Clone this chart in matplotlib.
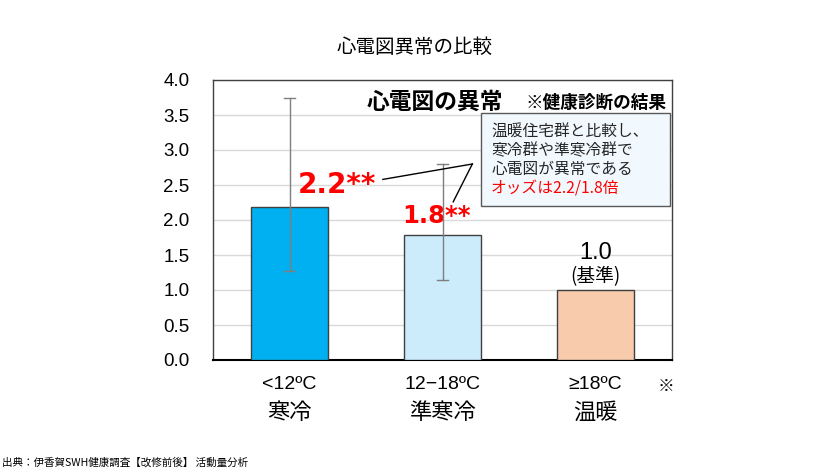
import matplotlib.pyplot as plt
from matplotlib.patches import Rectangle
import numpy as np

plt.rcParams['font.family'] = ['Noto Sans CJK JP', 'DejaVu Sans']

temps = ["<12ºC", "12−18ºC", "≥18ºC"]
groups = ["寒冷", "準寒冷", "温暖"]
odds = [2.18, 1.79, 1.0]
ci_low = [1.27, 1.14, np.nan]
ci_high = [3.75, 2.80, np.nan]
colors = ["#00B0F0", "#CCEBFB", "#F8CBAD"]
box_lines = ["温暖住宅群と比較し、", "寒冷群や準寒冷群で", "心電図が異常である"]
box_red = "オッズは2.2/1.8倍"
source = "出典：伊香賀SWH健康調査【改修前後】 活動量分析"

W, H = 830, 470
fig = plt.figure(figsize=(W / 100, H / 100), dpi=100)
ax = fig.add_axes([213 / W, 1 - 360 / H, (672 - 213) / W, (360 - 80) / H])

x = np.arange(len(odds))
ax.bar(x, odds, width=0.5, color=colors, edgecolor="#404040", linewidth=1, zorder=3)
for i in range(2):
    ax.plot([x[i], x[i]], [ci_low[i], ci_high[i]], color="#7F7F7F", lw=1, zorder=4)
    for yv in (ci_low[i], ci_high[i]):
        ax.plot([x[i] - 0.035, x[i] + 0.035], [yv, yv], color="#7F7F7F", lw=1, zorder=4)

ax.set_xlim(-0.5, 2.5)
ax.set_ylim(0, 4)
ax.set_yticks(np.arange(0, 4.01, 0.5))
ax.set_yticklabels([f"{v:.1f}" for v in np.arange(0, 4.01, 0.5)],
                   family=['Liberation Sans', 'DejaVu Sans'], fontsize=13.5)
ax.tick_params(axis="y", length=0, pad=17)
ax.set_xticks([])
ax.grid(axis="y", color="#D9D9D9", lw=1, zorder=0)
for s in ["top", "right", "left"]:
    ax.spines[s].set_color("#404040")
    ax.spines[s].set_linewidth(1)
ax.spines["bottom"].set_color("black")
ax.spines["bottom"].set_linewidth(1.5)

# x labels
for i in range(3):
    ax.text(x[i], -0.35, temps[i], ha="center", va="center", fontsize=14,
            family=['Liberation Sans', 'DejaVu Sans'])
    ax.text(x[i], -0.75, groups[i], ha="center", va="center", fontsize=16)
ax.text(2.46, -0.38, "※", ha="center", va="center", fontsize=12)

# annotations
ax.text(0.31, 2.5, "2.2**", color="red", fontweight="bold", fontsize=20,
        ha="center", va="center", family=['DejaVu Sans'])
ax.text(0.96, 2.06, "1.8**", color="red", fontweight="bold", fontsize=17.5,
        ha="center", va="center", family=['DejaVu Sans'])
ax.plot([0.61, 1.195], [2.58, 2.80], color="black", lw=1, zorder=5)
ax.plot([1.195, 1.07], [2.80, 2.26], color="black", lw=1, zorder=5)
ax.text(2, 1.53, "1.0", ha="center", va="center", fontsize=17,
        family=['Liberation Sans', 'DejaVu Sans'])
ax.text(2, 1.19, "(基準)", ha="center", va="center", fontsize=13.5)

# inner titles
ax.text(0.4826, 0.919, "心電図の異常", transform=ax.transAxes, ha="center",
        va="center", fontsize=16.4, fontweight="bold")
ax.text(0.834, 0.919, "※健康診断の結果", transform=ax.transAxes, ha="center",
        va="center", fontsize=12.7, fontweight="bold")

# text box
ax.add_patch(Rectangle((0.584, 0.551), 0.412, 0.331, transform=ax.transAxes,
                       facecolor="#F2F9FE", edgecolor="#595959", lw=1, zorder=6))
ys = [0.814, 0.746, 0.679]
for yy, t in zip(ys, box_lines):
    ax.text(0.606, yy, t, transform=ax.transAxes, ha="left", va="center",
            fontsize=11.3, color="#262626", zorder=7)
ax.text(0.606, 0.611, box_red, transform=ax.transAxes, ha="left", va="center",
        fontsize=11.3, color="red", zorder=7)

fig.text(415 / W, 1 - 47 / H, "心電図異常の比較", ha="center", va="center", fontsize=14)
fig.text(2 / W, 1 - 462 / H, source, ha="left", va="center", fontsize=7.6)

fig.savefig("out.png", dpi=100)
